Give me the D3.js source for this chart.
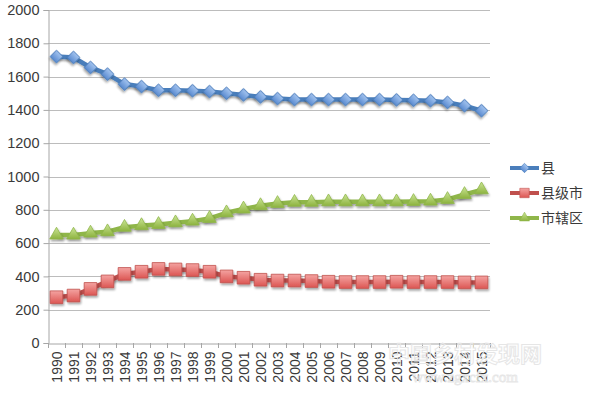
<!DOCTYPE html>
<html><head><meta charset="utf-8">
<script src="https://cdn.jsdelivr.net/npm/d3@7"></script>
<style>body{margin:0;background:#fff}svg{display:block}</style>
</head><body><svg id="c" width="599" height="399"></svg>
<script>
const years = ["1990","1991","1992","1993","1994","1995","1996","1997","1998","1999","2000","2001","2002","2003","2004","2005","2006","2007","2008","2009","2010","2011","2012","2013","2014","2015"];
const county = [1720,1715,1655,1615,1555,1540,1518,1518,1515,1510,1500,1490,1478,1468,1462,1462,1462,1462,1462,1462,1460,1458,1455,1445,1425,1395];
const countyCity = [275,285,325,370,415,428,445,442,438,428,400,392,380,375,375,372,368,366,366,366,368,366,366,366,364,364];
const district = [648,648,660,668,695,705,712,722,732,748,782,805,825,838,845,845,848,848,848,848,848,850,852,862,892,920];
const seriesNames = ["县","县级市","市辖区"];
const yTicks = [0,200,400,600,800,1000,1200,1400,1600,1800,2000];

(function(){
const svg = d3.select("#c");
const pL = 48, pR = 490, pT = 10, pB = 343;
const x = d3.scaleBand().domain(years).range([pL, pR]);
const y = d3.scaleLinear().domain([0,2000]).range([pB, pT]);
const font = "'Liberation Sans', Arial, sans-serif";

const defs = svg.append("defs");
function grad(id, c1, c2){
  const g = defs.append("linearGradient").attr("id", id).attr("x1",0).attr("y1",0).attr("x2",0).attr("y2",1);
  g.append("stop").attr("offset","0%").attr("stop-color",c1);
  g.append("stop").attr("offset","100%").attr("stop-color",c2);
}
grad("gb","#a3c4ef","#5a8ad0");
grad("gr","#f4a3a1","#dc5653");
grad("gg","#cbe596","#8db33f");
const sh = defs.append("filter").attr("id","sh").attr("x","-50%").attr("y","-50%").attr("width","200%").attr("height","200%");
sh.append("feGaussianBlur").attr("in","SourceAlpha").attr("stdDeviation",1.2);
sh.append("feOffset").attr("dx",1).attr("dy",1.5).attr("result","b");
sh.append("feComponentTransfer").append("feFuncA").attr("type","linear").attr("slope",0.35);
const m = sh.append("feMerge"); m.append("feMergeNode"); m.append("feMergeNode").attr("in","SourceGraphic");

svg.append("g").selectAll("line").data(yTicks.filter(d=>d>0)).join("line")
  .attr("x1", pL).attr("x2", pR).attr("y1", d=>Math.round(y(d))+0.5).attr("y2", d=>Math.round(y(d))+0.5)
  .attr("stroke", "#bcbcbc").attr("stroke-width", 1);

const ya = svg.append("g").attr("transform", `translate(${pL+0.5},0)`)
  .call(d3.axisLeft(y).tickValues(yTicks).tickSize(5).tickPadding(4).tickFormat(d3.format("d")));
ya.select(".domain").attr("stroke","#a6a6a6");
ya.selectAll(".tick line").attr("stroke","#a6a6a6");
ya.selectAll("text").attr("font-family", font).attr("font-size", 14.5).attr("fill","#3a3a3a");

const xa = svg.append("g").attr("transform", `translate(0,${pB+0.5})`)
  .call(d3.axisBottom(x).tickSize(0).tickPadding(0));
xa.select(".domain").attr("stroke","#a6a6a6");
xa.selectAll(".tick text").attr("font-family", font).attr("font-size", 14).attr("fill","#3a3a3a")
  .attr("transform","rotate(-90)").attr("text-anchor","end").attr("dx","-8").attr("dy","0.36em").attr("x",0).attr("y",0);
svg.append("g").selectAll("line").data(years.concat(["end"])).join("line")
  .attr("x1",(d,i)=> Math.round(pL + i*x.step()) + 0.5).attr("x2",(d,i)=> Math.round(pL + i*x.step()) + 0.5)
  .attr("y1", pB).attr("y2", pB+5).attr("stroke","#a6a6a6");

const cx = d => x(d) + x.bandwidth()/2;
const series = [
  {name: seriesNames[0], vals: county, stroke:"#4a7ebb", fill:"url(#gb)", sym: d3.symbolSquare, size: 80, rot: 45},
  {name: seriesNames[1], vals: countyCity, stroke:"#c0504d", fill:"url(#gr)", sym: d3.symbolSquare, size: 160, rot: 0},
  {name: seriesNames[2], vals: district, stroke:"#8fb64a", fill:"url(#gg)", sym: d3.symbolTriangle, size: 80, rot: 0},
];
const line = d3.line().x((d,i)=>cx(years[i])).y(d=>y(d));
series.forEach(s=>{
  const g = svg.append("g");
  g.append("path").datum(s.vals).attr("d", line).attr("fill","none")
    .attr("stroke", s.stroke).attr("stroke-width", 4.5).attr("stroke-linejoin","round").attr("filter","url(#sh)");
  g.selectAll("path.m").data(s.vals).join("path").attr("class","m")
    .attr("d", d3.symbol().type(s.sym).size(s.size))
    .attr("transform",(d,i)=>`translate(${cx(years[i])},${y(d)}) rotate(${s.rot})`)
    .attr("fill", s.fill).attr("stroke", s.stroke).attr("stroke-width",0.8).attr("filter","url(#sh)");
});

const lg = svg.append("g");
series.forEach((s,i)=>{
  const yy = 168 + i*25;
  lg.append("line").attr("x1",510).attr("x2",539).attr("y1",yy).attr("y2",yy)
    .attr("stroke", s.stroke).attr("stroke-width",4);
  lg.append("path").attr("d", d3.symbol().type(s.sym).size(s.size*0.55))
    .attr("transform",`translate(524.5,${yy}) rotate(${s.rot})`).attr("fill", s.fill).attr("stroke", s.stroke).attr("stroke-width",0.6);
  lg.append("text").attr("x",541).attr("y",yy).attr("dy","0.35em")
    .attr("font-family","'Noto Sans CJK SC', sans-serif").attr("font-size",14).attr("fill","#3a3a3a").text(s.name);
});

svg.append("text").attr("x",465).attr("y",362).attr("text-anchor","middle")
  .attr("font-family","'Noto Sans CJK SC', sans-serif").attr("font-size",22).attr("font-weight","bold")
  .attr("fill","none").attr("stroke","#e6e6e6").attr("stroke-width",1).text("中国乡村发现网");
svg.append("text").attr("x",465).attr("y",382).attr("text-anchor","middle")
  .attr("font-family","'Liberation Serif', serif").attr("font-size",15)
  .attr("fill","none").attr("stroke","#e6e6e6").attr("stroke-width",0.8).text("www.zgxcfx.com");
})();
</script></body></html>
